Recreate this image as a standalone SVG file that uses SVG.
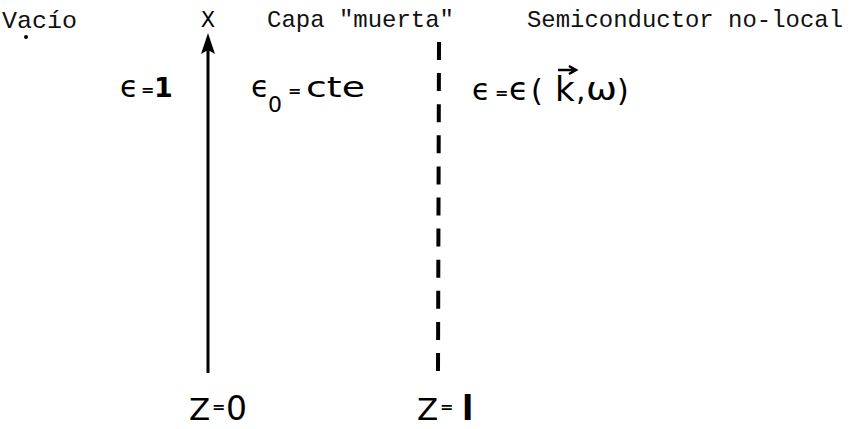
<svg xmlns="http://www.w3.org/2000/svg" width="863" height="429" viewBox="0 0 863 429">
<style>
.tw{font-family:"Liberation Mono","Courier New",monospace;font-size:24px;fill:#111}
.m{font-family:"DejaVu Sans","Liberation Sans",sans-serif;fill:#000}
.eq{font-size:16px;font-weight:bold}
</style>
<defs>
<marker id="ah" viewBox="0 0 22 14" refX="4" refY="7" markerWidth="22" markerHeight="14" markerUnits="userSpaceOnUse" orient="auto">
<path d="M0 0 L21 7 L0 14 L4 7 Z" fill="#000"/>
</marker>
</defs>
<rect width="863" height="429" fill="#fff"/>
<g id="connectors">
<line id="axis-x" x1="208" y1="373" x2="208" y2="50" stroke="#000" stroke-width="3" marker-end="url(#ah)"/>
<line id="interface" x1="439" y1="42" x2="438" y2="373" stroke="#000" stroke-width="4" stroke-dasharray="18 13.1"/>
</g>
<g id="vacio">
<text class="tw" x="2" y="28" textLength="75" lengthAdjust="spacingAndGlyphs">Vacío</text>
<circle cx="26" cy="37" r="2" fill="#000"/>
<text class="m" x="120" y="97" font-size="30">ϵ</text>
<text class="m eq" x="141" y="95">=</text>
<text class="m" x="154" y="97" font-size="27" font-weight="bold">1</text>
</g>
<g id="eje">
<text class="m" x="208" y="27" font-size="21" text-anchor="middle">X</text>
</g>
<g id="capa-muerta">
<text class="tw" x="267" y="27" textLength="187" lengthAdjust="spacingAndGlyphs">Capa "muerta"</text>
<text class="m" x="251" y="97" font-size="30">ϵ</text>
<text class="m" x="268" y="112" font-size="22">0</text>
<text class="m eq" x="288" y="96">=</text>
<text class="m" x="306" y="97" font-size="29" textLength="59" lengthAdjust="spacingAndGlyphs">cte</text>
</g>
<g id="semiconductor">
<text class="tw" x="527" y="27" textLength="316" lengthAdjust="spacingAndGlyphs">Semiconductor no-local</text>
<text class="m" x="472" y="100" font-size="30">ϵ</text>
<text class="m eq" x="495" y="98">=</text>
<text class="m" x="509" y="100" font-size="32">ϵ</text>
<text class="m" x="531" y="101" font-size="30">(</text>
<text class="m" x="555" y="101" font-size="34">k</text>
<path d="M558 70 H574 M569 66 L576 70 L569 74" fill="none" stroke="#000" stroke-width="2.5"/>
<text class="m" x="576" y="100" font-size="30">,</text>
<text class="m" x="586" y="100" font-size="32" textLength="31" lengthAdjust="spacingAndGlyphs">ω</text>
<text class="m" x="617" y="101" font-size="30">)</text>
</g>
<g id="z0">
<text class="m" x="189" y="420" font-size="31">Z</text>
<text class="m eq" x="212" y="412">=</text>
<text class="m" x="226" y="420" font-size="33">0</text>
</g>
<g id="zl">
<text class="m" x="417" y="420" font-size="31">Z</text>
<text class="m eq" x="440" y="412">=</text>
<text class="m" x="462" y="420" font-size="33" font-weight="bold">l</text>
</g>
</svg>
